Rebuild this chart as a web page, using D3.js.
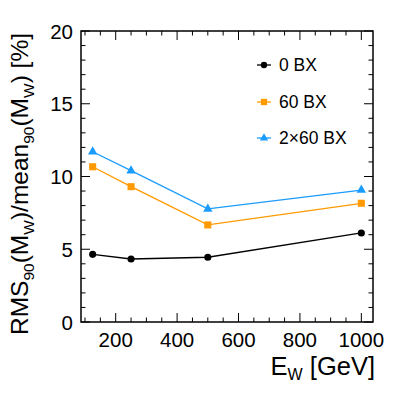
<!DOCTYPE html>
<html><head><meta charset="utf-8">
<script src="https://cdn.jsdelivr.net/npm/d3@7"></script>
<style>body{margin:0;background:#fff;} text{font-family:"Liberation Sans",Arial,sans-serif;}</style>
</head><body>
<svg id="c" width="407" height="393"></svg>
<script>
const energies = [125, 250, 500, 1000];
const bx0 = [4.65, 4.33, 4.45, 6.12];
const bx60 = [10.67, 9.30, 6.67, 8.16];
const bx2x60 = [11.70, 10.40, 7.77, 9.07];
const seriesNames = ["0 BX", "60 BX", "2\u00d760 BX"];
const xTicks = [200, 400, 600, 800, 1000];
const yTicks = [0, 5, 10, 15, 20];

const svg = d3.select("#c");
const L = 81, R = 373, T = 31, B = 322;
const x = d3.scaleLinear().domain([87, 1038]).range([L, R]);
const y = d3.scaleLinear().domain([0, 20]).range([B, T]);

const series = [
  {name: seriesNames[0], vals: bx0, color: "#000000", sym: d3.symbolCircle, size: 40},
  {name: seriesNames[1], vals: bx60, color: "#ff9a00", sym: d3.symbolSquare, size: 50},
  {name: seriesNames[2], vals: bx2x60, color: "#1a9cff", sym: d3.symbolTriangle, size: 38}
];

// ticks
const g = svg.append("g").attr("stroke", "#000").attr("stroke-width", 1);
d3.range(100, 1038, 50).forEach(v => {
  const len = (v % 200 === 0) ? 9 : 4.5;
  g.append("line").attr("x1", x(v)).attr("x2", x(v)).attr("y1", B).attr("y2", B - len);
  g.append("line").attr("x1", x(v)).attr("x2", x(v)).attr("y1", T).attr("y2", T + len);
});
d3.range(0, 21, 1).forEach(v => {
  const len = (v % 5 === 0) ? 9 : 4.5;
  g.append("line").attr("y1", y(v)).attr("y2", y(v)).attr("x1", L).attr("x2", L + len);
  g.append("line").attr("y1", y(v)).attr("y2", y(v)).attr("x1", R).attr("x2", R - len);
});
svg.append("rect").attr("x", L).attr("y", T).attr("width", R - L).attr("height", B - T)
  .attr("fill", "none").attr("stroke", "#000").attr("stroke-width", 1.5);

// tick labels
xTicks.forEach(v => svg.append("text").attr("x", x(v)).attr("y", B + 25)
  .attr("text-anchor", "middle").attr("font-size", 20.5).text(v));
yTicks.forEach(v => svg.append("text").attr("x", L - 8).attr("y", y(v) + 7.5)
  .attr("text-anchor", "end").attr("font-size", 20.5).text(v));

// axis titles
const xt = svg.append("text").attr("x", R + 2).attr("y", 375).attr("text-anchor", "end").attr("font-size", 25.5);
xt.append("tspan").text("E");
xt.append("tspan").attr("font-size", 16).attr("dy", 5).text("W");
xt.append("tspan").attr("dy", -5).text(" [GeV]");

const yt = svg.append("text").attr("transform", "translate(27.5,335) rotate(-90)").attr("font-size", 24.5);
const sub = (t) => { yt.append("tspan").attr("font-size", 15.5).attr("dy", 6).text(t); };
const main = (t) => { yt.append("tspan").attr("dy", -6).text(t); };
yt.append("tspan").text("RMS");
sub("90"); main("(M"); sub("W"); main(")/mean"); sub("90"); main("(M"); sub("W"); main(") [%]");

// data
const line = d3.line().x((d, i) => x(energies[i])).y(d => y(d));
series.forEach(s => {
  svg.append("path").attr("d", line(s.vals)).attr("fill", "none")
    .attr("stroke", s.color).attr("stroke-width", 1.3);
  s.vals.forEach((v, i) => {
    svg.append("path").attr("d", d3.symbol().type(s.sym).size(s.size)())
      .attr("transform", `translate(${x(energies[i])},${y(v)})`).attr("fill", s.color);
  });
});

// legend
const legY = [65, 102, 138];
series.forEach((s, i) => {
  const ly = legY[i];
  svg.append("line").attr("x1", 257).attr("x2", 271).attr("y1", ly).attr("y2", ly)
    .attr("stroke", s.color).attr("stroke-width", 1.3);
  svg.append("path").attr("d", d3.symbol().type(s.sym).size(s.size * 0.8)())
    .attr("transform", `translate(264,${ly})`).attr("fill", s.color);
  svg.append("text").attr("x", 279).attr("y", ly + 6.3).attr("font-size", 17.5).text(s.name);
});
</script>
</body></html>
